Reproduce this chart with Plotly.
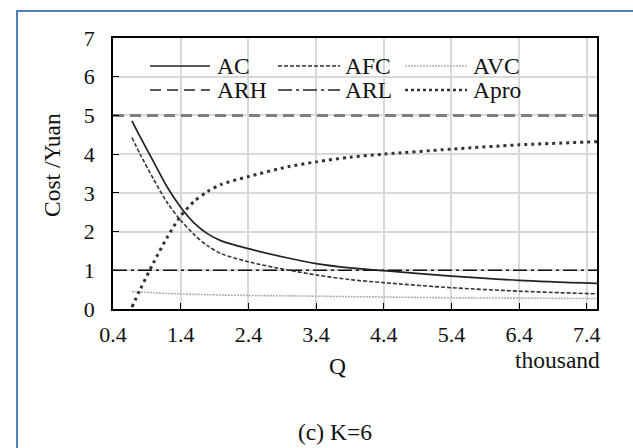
import plotly.graph_objects as go

# ---------------- data ----------------
q_cost = [0.68, 0.8, 1.0, 1.2, 1.4, 1.6, 1.8, 2.0, 2.4, 3.0, 3.4, 3.9, 4.4, 5.4, 6.4, 7.55]
ac     = [4.86, 4.45, 3.80, 3.15, 2.63, 2.22, 1.94, 1.76, 1.56, 1.31, 1.17, 1.06, 0.99, 0.85, 0.74, 0.66]
afc    = [4.43, 4.00, 3.35, 2.75, 2.29, 1.92, 1.63, 1.43, 1.22, 1.00, 0.88, 0.76, 0.68, 0.55, 0.46, 0.39]
avc    = [0.45, 0.44, 0.42, 0.40, 0.39, 0.38, 0.37, 0.36, 0.35, 0.34, 0.33, 0.32, 0.31, 0.29, 0.28, 0.27]
apro   = [0.05, 0.50, 1.20, 1.85, 2.40, 2.78, 3.04, 3.22, 3.42, 3.68, 3.80, 3.92, 4.00, 4.13, 4.24, 4.32]
q_rev  = [0.4, 7.55]
arh    = [5, 5]
arl    = [1, 1]

x_ticks = [0.4, 1.4, 2.4, 3.4, 4.4, 5.4, 6.4, 7.4]
x_ticktext = ["0.4", "1.4", "2.4", "3.4", "4.4", "5.4", "6.4", "7.4"]
y_ticks = [0, 1, 2, 3, 4, 5, 6, 7]

legend_names = ["AC", "AFC", "AVC", "ARH", "ARL", "Apro"]

# ---------------- layout geometry ----------------
W, H = 633, 448
L, R, T, B = 113, 36, 38, 139
PW, PH = W - L - R, H - T - B
FONT = "Liberation Serif, Times New Roman, serif"
TXT = 23.5
TICK = 22


def px(x):
    return (x - L) / PW


def py(y):
    return (T + PH - y) / PH


styles = {
    "AC":   dict(color="#222222", width=1.7, dash="solid"),
    "AFC":  dict(color="#333333", width=1.6, dash="4px,2px"),
    "AVC":  dict(color="#b0b0b0", width=1.6, dash="2px,1px"),
    "ARH":  dict(color="#7f7f7f", width=3, dash="11px,6px"),
    "ARL":  dict(color="#111111", width=1.5, dash="14px,4px,3px,4px"),
    "Apro": dict(color="#333333", width=3, dash="3px,4px"),
}

fig = go.Figure()
series = [
    ("ARH", q_rev, arh, "linear"),
    ("ARL", q_rev, arl, "linear"),
    ("AVC", q_cost, avc, "spline"),
    ("AFC", q_cost, afc, "spline"),
    ("AC", q_cost, ac, "spline"),
    ("Apro", q_cost, apro, "spline"),
]
for name, xs, ys, shp in series:
    fig.add_trace(go.Scatter(x=xs, y=ys, mode="lines", name=name, showlegend=False,
                             line=dict(shape=shp, smoothing=0.8, **styles[name])))

# ---------------- custom legend (2 rows x 3 columns) ----------------
legend_styles = {
    "AC":   dict(color="#222222", width=1.7, dash="solid"),
    "AFC":  dict(color="#333333", width=1.6, dash="4px,2px"),
    "AVC":  dict(color="#b0b0b0", width=1.6, dash="2px,1px"),
    "ARH":  dict(color="#222222", width=1.6, dash="11px,6px"),
    "ARL":  dict(color="#222222", width=1.6, dash="14px,4px,3px,4px"),
    "Apro": dict(color="#333333", width=2.5, dash="3px,3px"),
}
col_x = [(150, 210, 215), (278, 340, 343), (405, 467, 471)]
row_y = [66, 90]
shapes = []
annotations = []
for i, name in enumerate(legend_names):
    r, c = divmod(i, 3)
    x0, x1, xt = col_x[c]
    yy = row_y[r]
    shapes.append(dict(type="line", xref="paper", yref="paper",
                       x0=px(x0), x1=px(x1), y0=py(yy), y1=py(yy),
                       line=legend_styles[name]))
    annotations.append(dict(text=name, xref="paper", yref="paper", x=px(xt), y=py(yy),
                            xanchor="left", yanchor="middle", showarrow=False,
                            font=dict(family=FONT, size=TXT, color="#111")))

# outer blue frame
shapes.append(dict(type="rect", xref="paper", yref="paper",
                   x0=px(17), x1=px(W + 20), y0=py(11), y1=py(H + 20),
                   line=dict(color="#4f81bd", width=2), layer="below"))

# titles / labels
annotations += [
    dict(text="Cost /Yuan", xref="paper", yref="paper", x=px(52), y=py(165), textangle=-90,
         xanchor="center", yanchor="middle", showarrow=False,
         font=dict(family=FONT, size=TXT, color="#111")),
    dict(text="Q", xref="paper", yref="paper", x=px(337), y=py(366),
         xanchor="center", yanchor="middle", showarrow=False,
         font=dict(family=FONT, size=TXT, color="#111")),
    dict(text="thousand", xref="paper", yref="paper", x=px(557), y=py(360),
         xanchor="center", yanchor="middle", showarrow=False,
         font=dict(family=FONT, size=TXT, color="#111")),
    dict(text="(c) K=6", xref="paper", yref="paper", x=px(335), y=py(432),
         xanchor="center", yanchor="middle", showarrow=False,
         font=dict(family=FONT, size=TXT, color="#111")),
]

fig.update_layout(
    width=W, height=H,
    margin=dict(l=L, r=R, t=T, b=B, pad=0),
    paper_bgcolor="white", plot_bgcolor="white",
    font=dict(family=FONT, size=TICK, color="#111"),
    shapes=shapes, annotations=annotations,
    showlegend=False,
)
fig.update_xaxes(range=[0.4, 7.55], tickvals=x_ticks, ticktext=x_ticktext,
                 showgrid=True, gridcolor="#d9d9d9", gridwidth=1.5,
                 showline=True, linecolor="black", linewidth=1.5, mirror=True,
                 ticks="inside", ticklen=6, tickcolor="black", tickwidth=1,
                 ticklabelstandoff=5, zeroline=False,
                 tickfont=dict(family=FONT, size=TICK, color="#111"))
fig.update_yaxes(range=[0, 7], tickvals=y_ticks,
                 showgrid=True, gridcolor="#d9d9d9", gridwidth=1.5,
                 showline=True, linecolor="black", linewidth=1.5, mirror=True,
                 ticks="inside", ticklen=6, tickcolor="black", tickwidth=1,
                 ticklabelstandoff=12, zeroline=False,
                 tickfont=dict(family=FONT, size=TICK, color="#111"))

fig.write_html("out.html", config={"displayModeBar": False},
               post_script="document.body.style.margin='0';document.body.style.overflow='hidden';")
